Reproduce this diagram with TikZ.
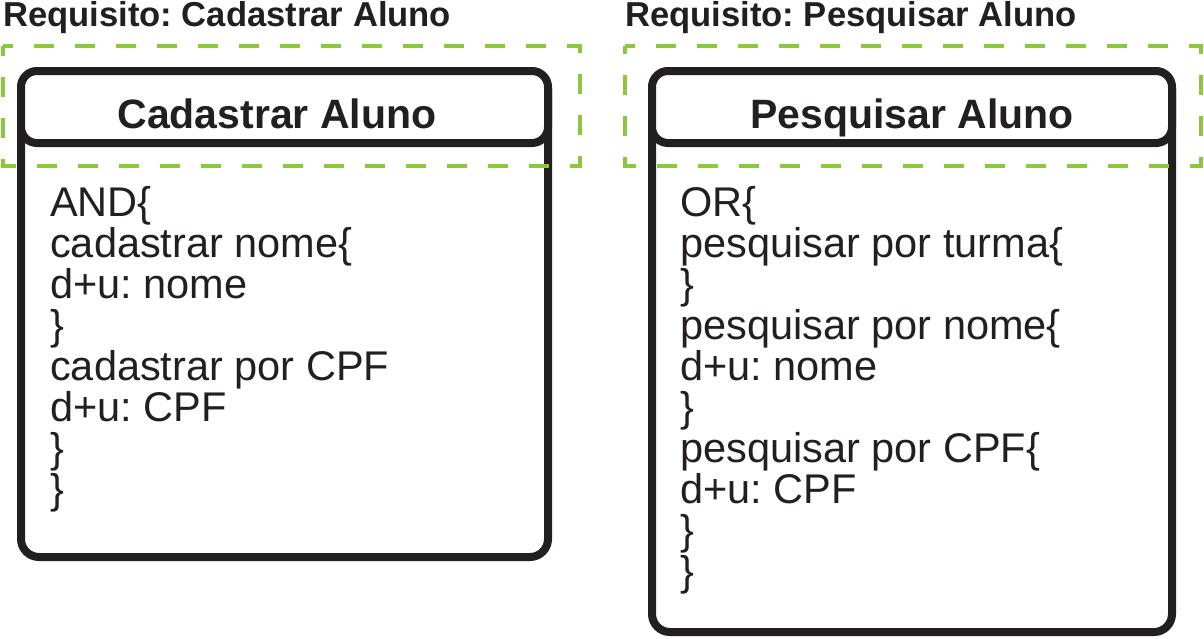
\documentclass[tikz,border=0pt]{standalone}
\usepackage{fontspec}
\setmainfont{Liberation Sans}
\frenchspacing
\definecolor{ink}{HTML}{231F20}
\definecolor{reqgreen}{HTML}{8DC63F}
\begin{document}
\begin{tikzpicture}[x=1pt,y=-1pt,
  boxline/.style={draw=ink, line width=8pt, rounded corners=18pt, fill=white},
  headline/.style={draw=ink, line width=8pt, rounded corners=16pt, fill=white},
  reqframe/.style={draw=reqgreen, line width=4.5pt, dash pattern=on 20pt off 21pt, dash phase=10pt},
  titletext/.style={font={\fontsize{34.6}{34.6}\selectfont\bfseries}, text=ink, anchor=base west, inner sep=0pt},
  headtext/.style={font={\fontsize{41}{41}\selectfont\bfseries}, text=ink, anchor=base, inner sep=0pt},
  bodytext/.style={font={\fontsize{41.5}{41}\selectfont}, text=ink, anchor=base west, inner sep=0pt}
]
\useasboundingbox (0,0) rectangle (1204,638);
\fill[white] (0,0) rectangle (1204,638);

% ---------- left: Cadastrar Aluno ----------
\node[titletext] (cadtitle) at (3,26) {Requisito: Cadastrar Aluno};
\draw[boxline] (21,71) rectangle (548,557);
\draw[headline] (21,71) rectangle (548,143);
\draw[reqframe] (3,46) -- (580,46) -- (580,166) -- (3,166) -- cycle;
\node[headtext] (cadhead) at (277,128) {Cadastrar Aluno};
\foreach \t [count=\i] in {AND\{, cadastrar nome\{, d+u: nome, \}, cadastrar por CPF, d+u: CPF, \}, \}}
  \node[bodytext] (cad\i) at (50,{216+41*(\i-1)}) {\t};

% ---------- right: Pesquisar Aluno ----------
\node[titletext] (pestitle) at (625,26) {Requisito: Pesquisar Aluno};
\draw[boxline] (652,71) rectangle (1172,632);
\draw[headline] (652,71) rectangle (1172,143);
\draw[reqframe] (625,46) -- (1201,46) -- (1201,166) -- (625,166) -- cycle;
\node[headtext] (peshead) at (912,128) {Pesquisar Aluno};
\foreach \t [count=\i] in {OR\{, pesquisar por turma\{, \}, pesquisar por nome\{, d+u: nome, \}, pesquisar por CPF\{, d+u: CPF, \}, \}}
  \node[bodytext] (pes\i) at (680,{216+41*(\i-1)}) {\t};
\end{tikzpicture}
\end{document}
